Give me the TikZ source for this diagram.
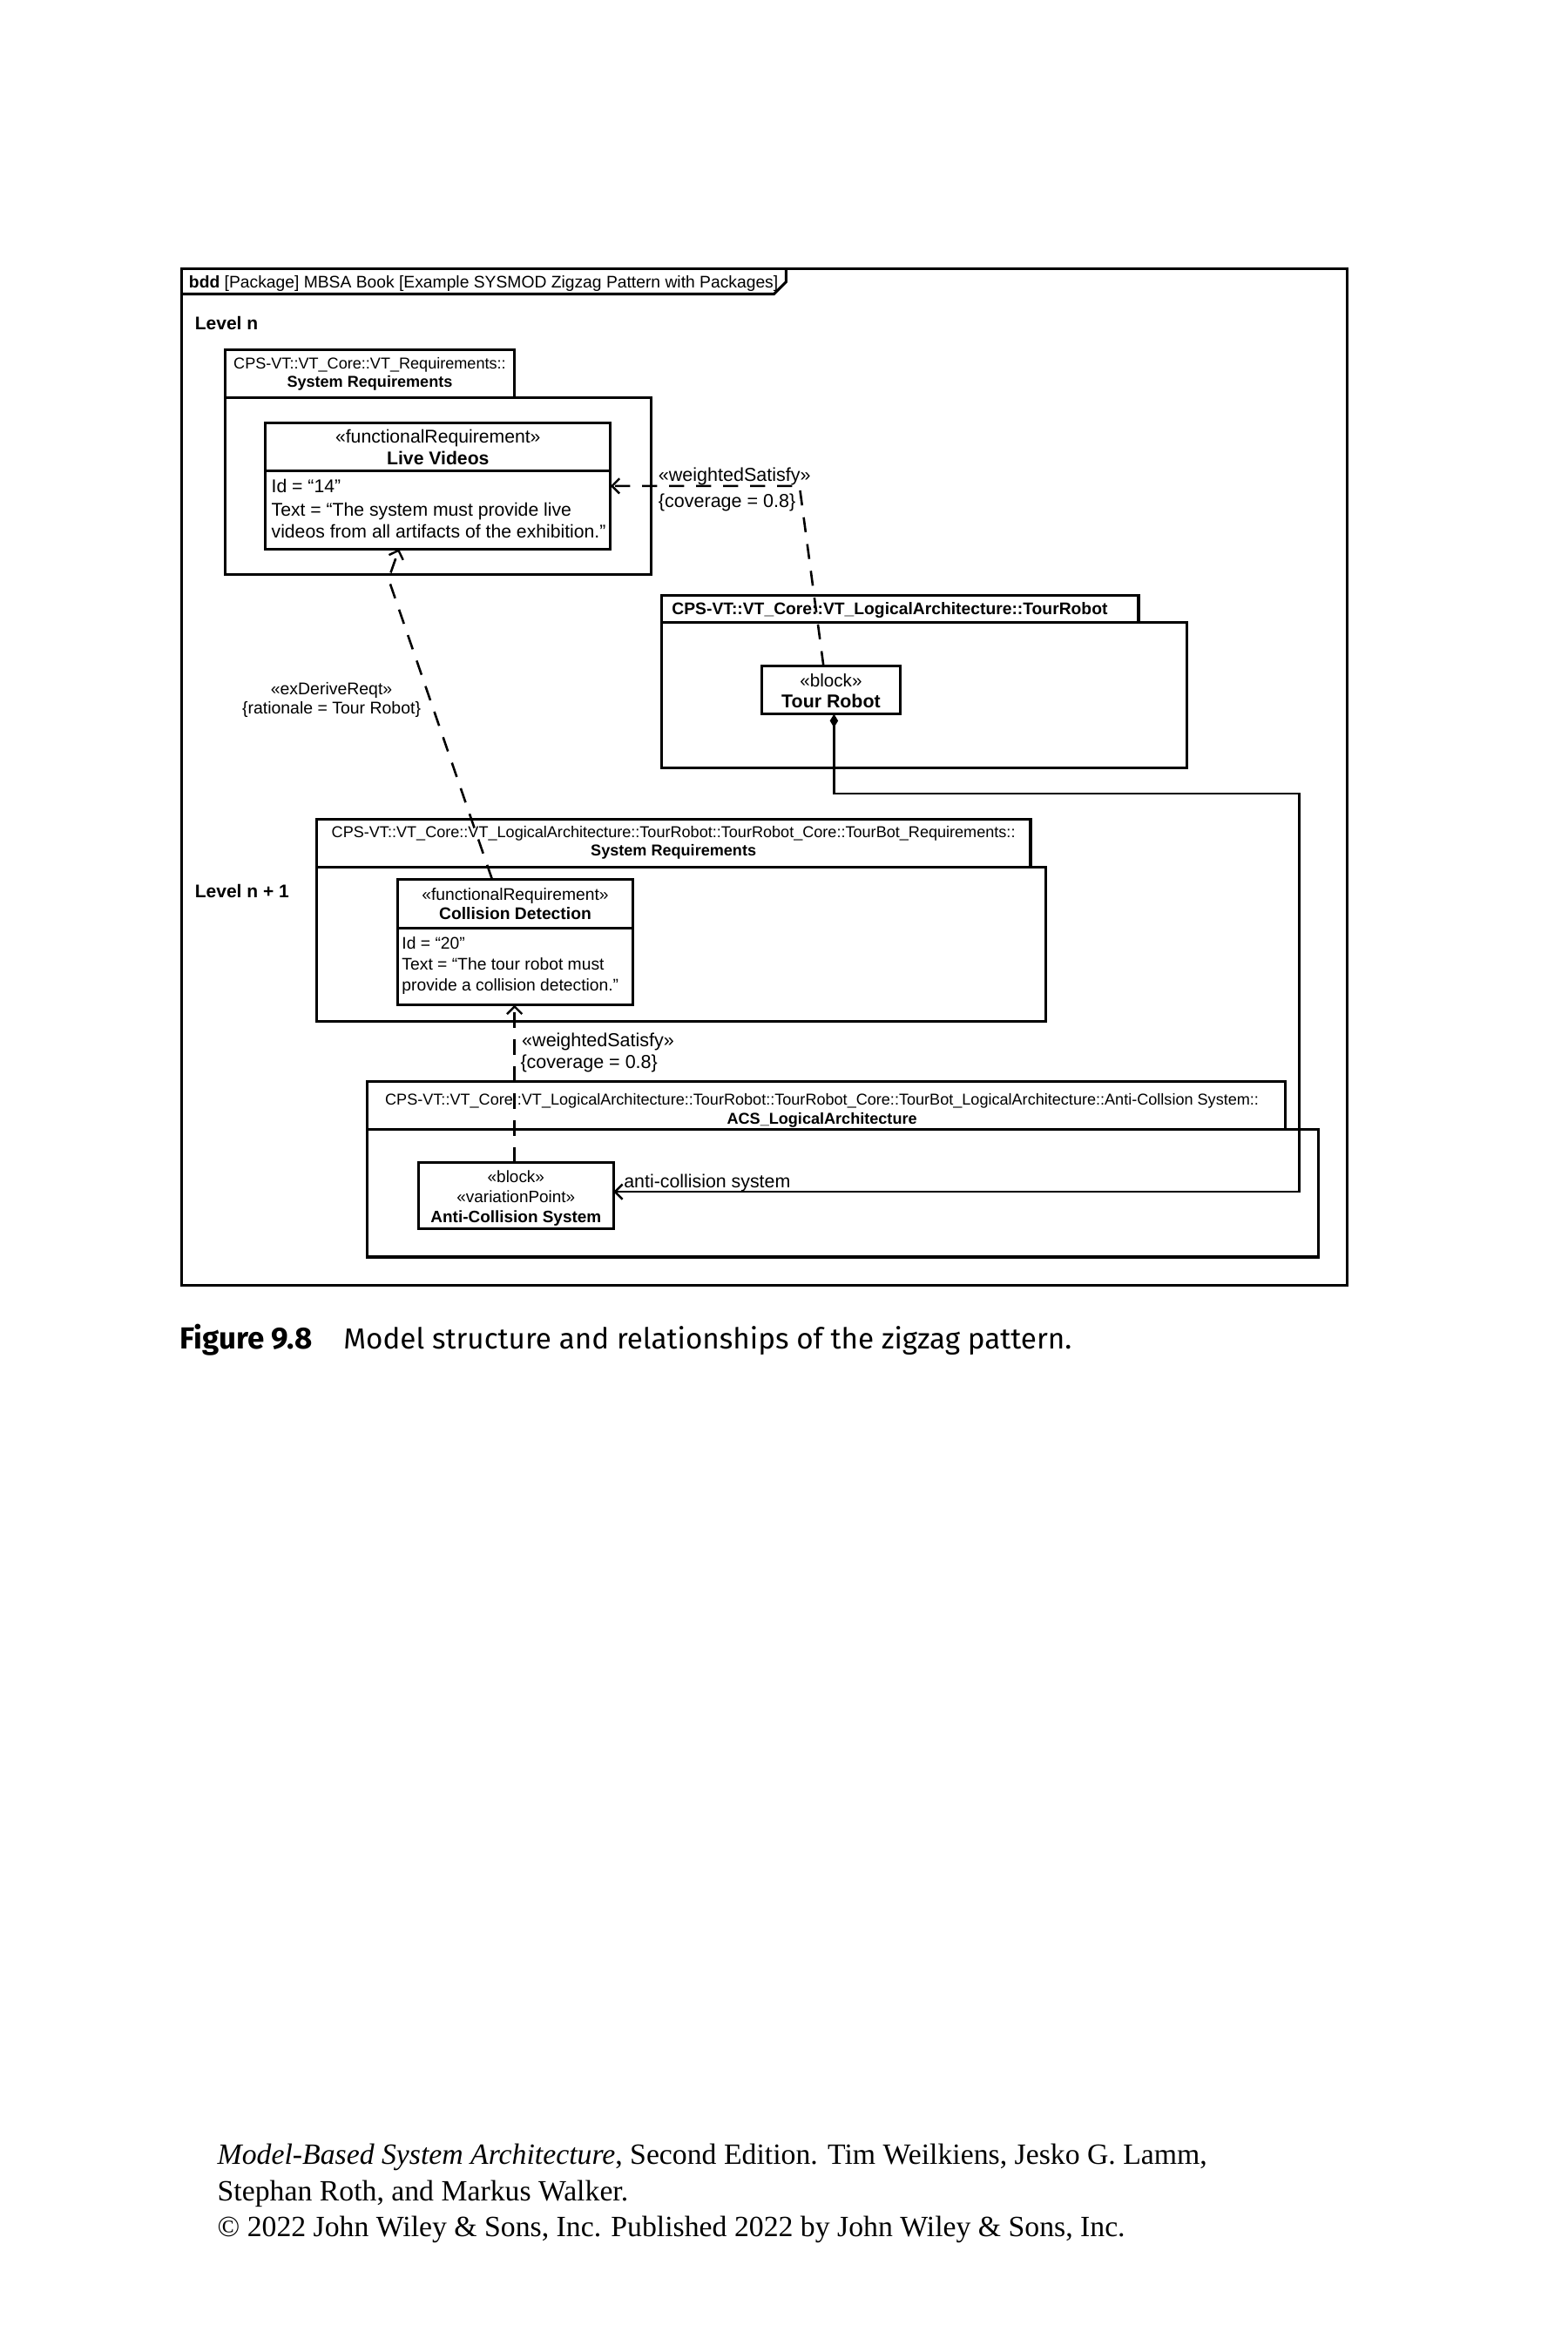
\documentclass[tikz,border=0pt]{standalone}
\usepackage{fontspec}
\setmainfont{Liberation Sans}
\newfontfamily\capfont{Fira Sans}
\newfontfamily\footfont{Liberation Serif}
\usetikzlibrary{arrows.meta}
\newcommand\fsz[2]{\fontsize{#1pt}{#2pt}\selectfont}
\begin{document}
\begin{tikzpicture}[x=1pt,y=-1pt,
  every node/.style={inner sep=0pt,outer sep=0pt},
  boxline/.style={draw,line width=1.8pt},
  blk/.style={boxline,anchor=north west,fill=white},
  conn/.style={line width=1.5pt},
  dsh/.style={conn,dash pattern=on 10pt off 8pt},
  opentip/.style={-{Straight Barb[length=5pt,width=10pt,line width=1.4pt]}},
  txt/.style={anchor=base},
  ltxt/.style={anchor=base west},
]
\useasboundingbox (0,0) rectangle (1045,1568);
\fill[white] (0,0) rectangle (1045,1568);

% outer frame and title tab
\draw[boxline] (121,179) rectangle (898,857);
\draw[boxline] (121,196) -- (516,196) -- (524,188) -- (524,179);
\node[ltxt] (title) at (126,191.7) {\fsz{11.2}{13}\textbf{bdd} [Package] MBSA Book [Example SYSMOD Zigzag Pattern with Packages]};

\node[ltxt] (lvn) at (130,220) {\fsz{12.2}{14}\bfseries Level n};
\node[ltxt] (lvn1) at (130,598.4) {\fsz{12.2}{14}\bfseries Level n + 1};

% packages
\draw[boxline] (150,265) rectangle (434,383);
\draw[boxline] (150,233) rectangle (343,265);
\node[txt] (p1a) at (246.5,246.1) {\fsz{10.5}{12}CPS-VT::VT\_Core::VT\_Requirements::};
\node[txt] (p1b) at (246.5,258.3) {\fsz{10.5}{12}\bfseries System Requirements};

\draw[boxline] (441,415) rectangle (791,512);
\draw[boxline] (441,397) rectangle (759,415);
\node[ltxt] (p2a) at (448,409.8) {\fsz{11.2}{13}\bfseries CPS-VT::VT\_Core::VT\_LogicalArchitecture::TourRobot};

\draw[boxline] (211,578) rectangle (697,681);
\draw[boxline] (211,546) rectangle (687,578);
\node[txt] (p3a) at (449,558.3) {\fsz{10.5}{12}CPS-VT::VT\_Core::VT\_LogicalArchitecture::TourRobot::TourRobot\_Core::TourBot\_Requirements::};
\node[txt] (p3b) at (449,570.6) {\fsz{10.5}{12}\bfseries System Requirements};

\draw[boxline] (245,753) rectangle (879,838);
\draw[boxline] (245,721) rectangle (857,753);
\node[txt] (p4a) at (548,736.8) {\fsz{10.5}{12}CPS-VT::VT\_Core::VT\_LogicalArchitecture::TourRobot::TourRobot\_Core::TourBot\_LogicalArchitecture::Anti-Collsion System::};
\node[txt] (p4b) at (548,749.2) {\fsz{10.5}{12}\bfseries ACS\_LogicalArchitecture};

% Live Videos
\node[blk,minimum width=230pt,minimum height=84pt] (LV) at (177,282) {};
\draw[boxline] (177,314) -- (407,314);
\node[txt] (lv1) at (292,295.3) {\fsz{12.3}{14}«functionalRequirement»};
\node[txt] (lv2) at (292,309.8) {\fsz{12.3}{14}\bfseries Live Videos};
\node[ltxt] (lv3) at (181,328.5) {\fsz{12.3}{14}Id = “14”};
\node[ltxt] (lv4) at (181,343.8) {\fsz{12.3}{14}Text = “The system must provide live};
\node[ltxt] (lv5) at (181,358.5) {\fsz{12.3}{14}videos from all artifacts of the exhibition.”};

% Tour Robot
\node[blk,minimum width=92pt,minimum height=32pt] (TR) at (508,444) {};
\node[txt] (tr1) at (554,457.8) {\fsz{12}{14}«block»};
\node[txt] (tr2) at (554,471.7) {\fsz{12.4}{14}\bfseries Tour Robot};

% Collision Detection
\node[blk,minimum width=157pt,minimum height=84pt] (CD) at (265,586) {};
\draw[boxline] (265,619) -- (422,619);
\node[txt] (cd1) at (343.5,600) {\fsz{11.2}{13}«functionalRequirement»};
\node[txt] (cd2) at (343.5,613) {\fsz{11.2}{13}\bfseries Collision Detection};
\node[ltxt] (cd3) at (268,632.5) {\fsz{11.2}{13}Id = “20”};
\node[ltxt] (cd4) at (268,646.8) {\fsz{11.2}{13}Text = “The tour robot must};
\node[ltxt] (cd5) at (268,660.3) {\fsz{11.2}{13}provide a collision detection.”};

% Anti-Collision System
\node[blk,minimum width=130pt,minimum height=44pt] (ACS) at (279,775) {};
\node[txt] (acs1) at (344,788.2) {\fsz{11}{13}«block»};
\node[txt] (acs2) at (344,801.8) {\fsz{11}{13}«variationPoint»};
\node[txt] (acs3) at (344,815.3) {\fsz{11}{13}\bfseries Anti-Collision System};

% connectors
\coordinate (wbend) at (533,324);
\draw[dsh,opentip] ([xshift=41pt]TR.north west) -- (wbend) -- (LV.east);
\coordinate (dbend) at (259,386);
\draw[dsh,opentip] ([xshift=63pt]CD.north west) -- (dbend) -- ([xshift=89pt]LV.south west);
\draw[dsh,opentip] ([xshift=64pt]ACS.north west) -- ([xshift=78pt]CD.south west);
\coordinate (cA) at (866,529);
\draw[conn,{Diamond[length=9pt,width=5.5pt]}-{Straight Barb[length=5pt,width=10pt,line width=1.4pt]}] ([xshift=2pt]TR.south) |- (cA) |- ([yshift=2.5pt]ACS.east);

% connector labels
\node[ltxt] (ws1a) at (439,321) {\fsz{12.5}{14}«weightedSatisfy»};
\node[ltxt] (ws1b) at (439,338.5) {\fsz{12.5}{14}\{coverage = 0.8\}};
\node[txt] (dra) at (221,463) {\fsz{11.3}{13}«exDeriveReqt»};
\node[txt] (drb) at (221,475.8) {\fsz{11.3}{13}\{rationale = Tour Robot\}};
\node[ltxt] (ws2a) at (348,697.5) {\fsz{12.5}{14}«weightedSatisfy»};
\node[ltxt] (ws2b) at (347,712.5) {\fsz{12.5}{14}\{coverage = 0.8\}};
\node[ltxt] (acl) at (416,792) {\fsz{12.4}{14}anti-collision system};

% caption
\node[ltxt] (capA) at (120,899) {\capfont\fsz{20.3}{22}\bfseries Figure 9.8};
\node[ltxt] (capB) at (229,899) {\capfont\fsz{19.3}{22}Model structure and relationships of the zigzag pattern.};

% footer
\node[ltxt] (f1) at (145,1443) {\footfont\fsz{19.6}{24}\textit{Model-Based System Architecture}, Second Edition. Tim Weilkiens, Jesko G. Lamm,};
\node[ltxt] (f2) at (145,1467) {\footfont\fsz{19.6}{24}Stephan Roth, and Markus Walker.};
\node[ltxt] (f3) at (145,1491) {\footfont\fsz{19.6}{24}© 2022 John Wiley \& Sons, Inc. Published 2022 by John Wiley \& Sons, Inc.};
\end{tikzpicture}
\end{document}
